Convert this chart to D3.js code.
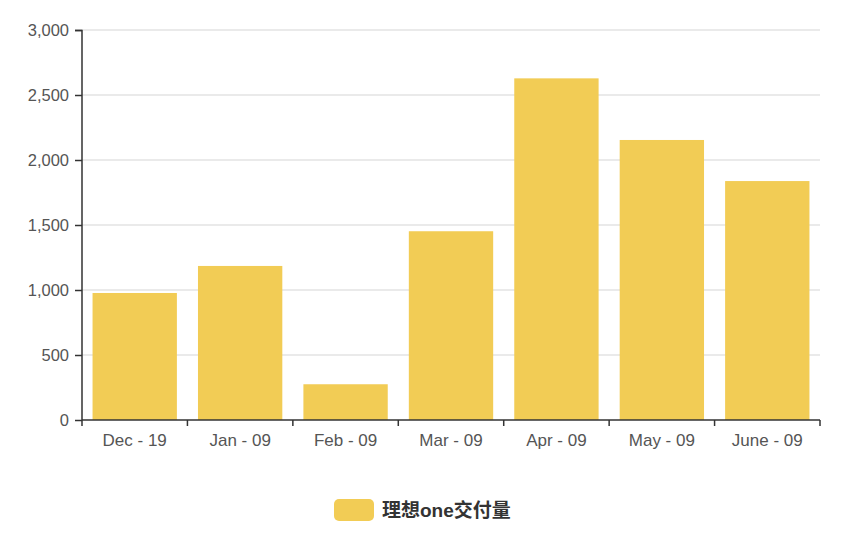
<!DOCTYPE html>
<html>
<head>
<meta charset="utf-8">
<script src="https://cdn.jsdelivr.net/npm/d3@7"></script>
<style>
  body { margin: 0; background: #fff; }
  text { font-family: "Liberation Sans", Arial, sans-serif; }
</style>
</head>
<body>
<svg id="chart" width="862" height="536"></svg>
<script>
const months = ["Dec - 19", "Jan - 09", "Feb - 09", "Mar - 09", "Apr - 09", "May - 09", "June - 09"];
const deliveries = [977, 1185, 275, 1452, 2628, 2154, 1838];
const yTicks = [0, 500, 1000, 1500, 2000, 2500, 3000];
const seriesName = "理想one交付量";

const svg = d3.select("#chart");
const margin = { top: 30, right: 42, bottom: 116, left: 82 };
const width = 862 - margin.left - margin.right;
const height = 536 - margin.top - margin.bottom;
const color = "#f2cc55";

const x = d3.scaleBand().domain(months).range([0, width]).paddingInner(0.2).paddingOuter(0.1);
const y = d3.scaleLinear().domain([0, 3000]).range([height, 0]);

const g = svg.append("g").attr("transform", `translate(${margin.left},${margin.top})`);

/* ------- GRID -------*/
g.append("g")
  .selectAll("line")
  .data(yTicks.slice(1))
  .enter()
  .append("line")
  .attr("x1", 0)
  .attr("x2", width)
  .attr("y1", d => y(d))
  .attr("y2", d => y(d))
  .attr("stroke", "#e3e3e3")
  .attr("stroke-width", 1.5);

/* ------- BARS -------*/
g.append("g")
  .selectAll("rect")
  .data(deliveries)
  .enter()
  .append("rect")
  .attr("x", (d, i) => x(months[i]))
  .attr("width", x.bandwidth())
  .attr("y", d => y(d))
  .attr("height", d => height - y(d))
  .attr("fill", color);

/* ------- AXES -------*/
const xScaleTicks = d3.scalePoint().domain(d3.range(months.length + 1)).range([0, width]);
const xAxis = g.append("g").attr("transform", `translate(0,${height})`);
xAxis.append("line").attr("x1", 0).attr("x2", width).attr("stroke", "#333").attr("stroke-width", 1.5);
xAxis.selectAll("line.tick")
  .data(xScaleTicks.domain())
  .enter()
  .append("line")
  .attr("class", "tick")
  .attr("x1", d => xScaleTicks(d))
  .attr("x2", d => xScaleTicks(d))
  .attr("y1", 0)
  .attr("y2", 6)
  .attr("stroke", "#333")
  .attr("stroke-width", 1.5);
xAxis.selectAll("text")
  .data(months)
  .enter()
  .append("text")
  .attr("x", d => x(d) + x.bandwidth() / 2)
  .attr("y", 26)
  .attr("text-anchor", "middle")
  .attr("font-size", 17)
  .attr("fill", "#555")
  .text(d => d);

const fmt = d3.format(",");
const yAxis = g.append("g")
  .call(d3.axisLeft(y).tickValues(yTicks).tickSize(7).tickPadding(6).tickFormat(fmt));
yAxis.select(".domain").attr("stroke", "#333").attr("stroke-width", 1.5).attr("d", `M-7,0.5H0V${height}`);
yAxis.selectAll(".tick line").attr("stroke", "#333").attr("stroke-width", 1.5);
yAxis.selectAll(".tick text")
  .attr("font-size", 16.5)
  .attr("fill", "#555")
  .style("font-family", "Liberation Sans, Arial, sans-serif");

/* ------- LEGEND -------*/
const legend = svg.append("g").attr("transform", "translate(334,499)");
legend.append("rect")
  .attr("width", 40)
  .attr("height", 22)
  .attr("rx", 5)
  .attr("fill", color);
legend.append("text")
  .attr("x", 48)
  .attr("y", 18)
  .attr("font-size", 19)
  .attr("font-weight", "bold")
  .attr("fill", "#333")
  .style("font-family", "'Liberation Sans', 'Noto Sans CJK SC', sans-serif")
  .text(seriesName);
</script>
</body>
</html>
